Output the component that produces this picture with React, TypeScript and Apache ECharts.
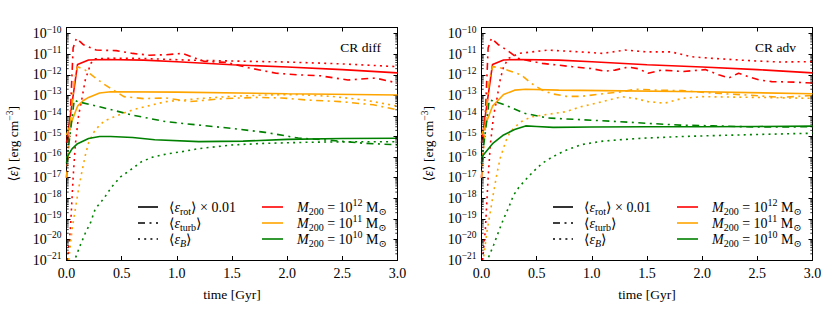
import { useEffect, useRef } from 'react';
import * as echarts from 'echarts';

// ---------------- axes / labels ----------------
const X_MIN = 0;
const X_MAX = 3;
const X_INTERVAL = 0.5;
const Y_MIN = 1e-21;
const Y_MAX = 2e-10;
const yTickExponents = [-21, -20, -19, -18, -17, -16, -15, -14, -13, -12, -11, -10];
const panelTitles = ['CR diff', 'CR adv'];
const massExponents = [12, 11, 10];
const massColors = ['#ff0000', '#ffa500', '#008000'];

// ---------------- CR diff (left panel) ----------------
const diffRot12 = [[0, 5e-16], [0.1, 3.2e-12], [0.2, 5.3e-12], [0.35, 5.6e-12], [0.7, 5.2e-12], [1.0, 4.3e-12], [1.5, 3.1e-12], [2.0, 2.4e-12], [2.5, 1.8e-12], [3.0, 1.25e-12]];
const diffTurb12 = [[0, 1e-17], [0.03, 3e-15], [0.06, 2e-11], [0.09, 6e-11], [0.15, 3e-11], [0.27, 1.6e-11], [0.45, 1.5e-11], [0.6, 1.1e-11], [0.75, 9e-12], [0.9, 9.5e-12], [1.05, 1.1e-11], [1.15, 7e-12], [1.25, 4.5e-12], [1.45, 4e-12], [1.65, 2.2e-12], [1.9, 1.2e-12], [2.1, 1e-12], [2.3, 9e-13], [2.55, 5.6e-13], [2.8, 7e-13], [3.0, 4e-13]];
const diffB12 = [[0.01, 1e-21], [0.035, 3e-20], [0.06, 1e-17], [0.08, 4e-16], [0.11, 1.1e-14], [0.14, 7e-14], [0.17, 5.6e-13], [0.22, 3.6e-12], [0.26, 6e-12], [0.4, 6.5e-12], [0.7, 6.2e-12], [1.1, 5.2e-12], [1.5, 4.7e-12], [2.0, 4.2e-12], [2.5, 3.4e-12], [3.0, 2.5e-12]];

const diffRot11 = [[0, 1.2e-15], [0.1, 3e-14], [0.15, 5.5e-14], [0.2, 8e-14], [0.3, 1.3e-13], [0.4, 1.5e-13], [1.0, 1.45e-13], [2.0, 1.2e-13], [3.0, 1.05e-13]];
const diffTurb11 = [[0, 1e-17], [0.04, 1e-14], [0.07, 5e-13], [0.1, 2.5e-12], [0.17, 1.7e-12], [0.25, 8e-13], [0.34, 3.5e-13], [0.52, 8.7e-14], [0.7, 7e-14], [0.9, 7.5e-14], [1.12, 5e-14], [1.42, 7e-14], [1.72, 8e-14], [1.95, 7.5e-14], [2.18, 6e-14], [2.48, 5e-14], [2.78, 3.5e-14], [3.0, 2e-14]];
const diffB11 = [[0.02, 1e-21], [0.05, 3e-20], [0.08, 3e-19], [0.11, 3e-18], [0.14, 2e-17], [0.17, 1.2e-16], [0.2, 5e-16], [0.25, 1.7e-15], [0.3, 3.6e-15], [0.35, 6e-15], [0.45, 1e-14], [0.6, 2e-14], [0.9, 5e-14], [1.2, 7e-14], [1.5, 9e-14], [1.8, 1.05e-13], [2.1, 1.1e-13], [2.4, 9e-14], [2.7, 6e-14], [3.0, 3e-14]];

const diffRot10 = [[0, 9e-17], [0.05, 2.5e-16], [0.1, 4.5e-16], [0.2, 8e-16], [0.3, 1e-15], [0.4, 1e-15], [0.6, 9e-16], [0.8, 7e-16], [1.2, 5.7e-16], [1.6, 6e-16], [2.0, 7.3e-16], [2.5, 8e-16], [3.0, 8.3e-16]];
const diffTurb10 = [[0, 5e-17], [0.03, 1e-15], [0.07, 6e-14], [0.1, 5e-14], [0.3, 2.8e-14], [0.6, 1.1e-14], [0.9, 5.3e-15], [1.2, 3.6e-15], [1.5, 2.5e-15], [1.8, 1.6e-15], [2.1, 8.5e-16], [2.4, 6.5e-16], [2.7, 4.7e-16], [3.0, 4e-16]];
const diffB10 = [[0.06, 7e-22], [0.08, 1.2e-21], [0.12, 4.5e-21], [0.17, 2e-20], [0.22, 7e-20], [0.26, 3e-19], [0.34, 1e-18], [0.41, 3.6e-18], [0.49, 1.1e-17], [0.58, 2.4e-17], [0.68, 6e-17], [0.78, 1e-16], [0.9, 1.4e-16], [1.06, 1.9e-16], [1.2, 2.6e-16], [1.5, 3.9e-16], [1.8, 4.7e-16], [2.2, 5.3e-16], [2.6, 5.6e-16], [3.0, 5.6e-16]];

// ---------------- CR adv (right panel) ----------------
const advRot12 = [[0, 5e-16], [0.1, 3.2e-12], [0.2, 5.3e-12], [0.35, 5.6e-12], [0.7, 5.2e-12], [1.0, 4.3e-12], [1.5, 3.1e-12], [2.0, 2.4e-12], [2.5, 1.8e-12], [3.0, 1.25e-12]];
const advTurb12 = [[0, 1e-17], [0.03, 3e-15], [0.06, 2e-11], [0.09, 6e-11], [0.15, 3e-11], [0.23, 1.6e-11], [0.33, 6.3e-12], [0.55, 3.6e-12], [0.82, 2.5e-12], [1.0, 2e-12], [1.12, 1.5e-12], [1.21, 1.7e-12], [1.33, 2.4e-12], [1.42, 2e-12], [1.51, 1.2e-12], [1.63, 1.7e-12], [1.83, 1.45e-12], [2.03, 1.8e-12], [2.15, 1e-12], [2.24, 7e-13], [2.33, 1.2e-12], [2.42, 8e-13], [2.52, 5.6e-13], [2.63, 4.7e-13], [2.84, 4.4e-13], [3.0, 4e-13]];
const advB12 = [[0.01, 1e-21], [0.035, 3e-20], [0.06, 1e-17], [0.08, 4e-16], [0.11, 1.1e-14], [0.14, 7e-14], [0.17, 6e-13], [0.2, 2.5e-12], [0.245, 6.3e-12], [0.34, 1.1e-11], [0.6, 1.6e-11], [0.9, 1.3e-11], [1.1, 1.1e-11], [1.3, 1.6e-11], [1.5, 1.3e-11], [1.72, 1.3e-11], [1.9, 7.6e-12], [2.1, 6.3e-12], [2.4, 5e-12], [2.7, 4.2e-12], [3.0, 4.4e-12]];

const advRot11 = [[0, 1.2e-15], [0.1, 3e-14], [0.2, 1.1e-13], [0.3, 1.8e-13], [0.4, 2e-13], [0.7, 1.8e-13], [1.1, 1.7e-13], [2.0, 1.5e-13], [3.0, 1.2e-13]];
const advTurb11 = [[0, 1e-17], [0.04, 1e-14], [0.07, 5e-13], [0.1, 2.5e-12], [0.17, 2.2e-12], [0.27, 1.45e-12], [0.36, 1e-12], [0.45, 3.9e-13], [0.55, 1.8e-13], [0.64, 1.2e-13], [0.77, 9e-14], [0.9, 9e-14], [1.1, 1.2e-13], [1.27, 1.5e-13], [1.4, 2e-13], [1.6, 1.8e-13], [1.82, 1.7e-13], [2.1, 1.3e-13], [2.4, 1.05e-13], [2.72, 8e-14], [3.0, 1e-13]];
const advB11 = [[0.02, 1.5e-21], [0.05, 2.5e-20], [0.08, 2.2e-19], [0.11, 2e-18], [0.14, 1.6e-17], [0.17, 9e-17], [0.22, 6e-16], [0.26, 1.7e-15], [0.35, 5e-15], [0.45, 9e-15], [0.6, 1.2e-14], [0.76, 1.6e-14], [0.9, 2.8e-14], [1.1, 5e-14], [1.27, 8.7e-14], [1.4, 7e-14], [1.51, 5e-14], [1.66, 4.2e-14], [1.82, 7.2e-14], [2.0, 8.7e-14], [2.5, 8e-14], [3.0, 7.2e-14]];

const advRot10 = [[0, 1e-16], [0.1, 4.5e-16], [0.2, 1.2e-15], [0.3, 2.2e-15], [0.4, 3.3e-15], [0.5, 3.1e-15], [0.65, 2.8e-15], [1.0, 2.9e-15], [1.5, 3e-15], [2.0, 3e-15], [2.5, 3.1e-15], [3.0, 3.2e-15]];
const advTurb10 = [[0, 5e-17], [0.03, 1e-15], [0.07, 6e-14], [0.1, 5.5e-14], [0.21, 3.5e-14], [0.39, 1.35e-14], [0.6, 8e-15], [0.9, 6.6e-15], [1.2, 5.5e-15], [1.5, 4.4e-15], [1.8, 3.6e-15], [2.1, 3.3e-15], [2.5, 2.9e-15], [3.0, 3e-15]];
const advB10 = [[0.05, 7e-22], [0.065, 1.4e-21], [0.11, 5.4e-21], [0.155, 2.4e-20], [0.2, 1e-19], [0.25, 4e-19], [0.29, 1.4e-18], [0.34, 3.5e-18], [0.4, 8e-18], [0.47, 2e-17], [0.55, 5e-17], [0.64, 1e-16], [0.75, 2e-16], [0.9, 4e-16], [1.1, 6e-16], [1.4, 8e-16], [1.8, 1e-15], [2.2, 1.15e-15], [2.6, 1.3e-15], [3.0, 1.45e-15]];

const panelData = [
  [
    { rot: diffRot12, turb: diffTurb12, B: diffB12 },
    { rot: diffRot11, turb: diffTurb11, B: diffB11 },
    { rot: diffRot10, turb: diffTurb10, B: diffB10 },
  ],
  [
    { rot: advRot12, turb: advTurb12, B: advB12 },
    { rot: advRot11, turb: advTurb11, B: advB11 },
    { rot: advRot10, turb: advTurb10, B: advB10 },
  ],
];

// ---------------- styling ----------------
const SERIF = '"Liberation Serif", "DejaVu Serif", "Times New Roman", serif';
const FS = 14;
const LFS = 14;
const LW = 1.6;
const DASHDOT = [7, 4.5, 2, 4.5];
const DOTTED = [2, 4.2];
const GRIDS = [
  { left: 66.5, top: 27.5, width: 331, height: 232.5 },
  { left: 481.5, top: 27.5, width: 331, height: 232.5 },
];

const axisRich = {
  b: { fontFamily: SERIF, fontSize: FS, color: '#000', lineHeight: 18 },
  sup: { fontFamily: SERIF, fontSize: 9.5, color: '#000', verticalAlign: 'top', lineHeight: 10 },
  ei: { fontFamily: SERIF, fontSize: FS, fontStyle: 'italic', color: '#000', lineHeight: 18 },
};

const gRich = {
  ei: { fontFamily: SERIF, fontSize: LFS, fontStyle: 'italic', fill: '#000', lineHeight: 19 },
  sub: { fontFamily: SERIF, fontSize: 10, fill: '#000', verticalAlign: 'bottom', lineHeight: 10 },
  subi: { fontFamily: SERIF, fontSize: 10, fontStyle: 'italic', fill: '#000', verticalAlign: 'bottom', lineHeight: 10 },
  sup: { fontFamily: SERIF, fontSize: 10, fill: '#000', verticalAlign: 'top', lineHeight: 10 },
};

function minorTickValues() {
  const out: number[][] = [];
  for (const e of yTickExponents) {
    for (let k = 2; k <= 9; k++) {
      const v = k * Math.pow(10, e);
      if (v < Y_MAX * 0.999) out.push([X_MIN, v]);
    }
  }
  return out;
}

function yLabel(v: number) {
  const r = Math.round(v);
  if (Math.abs(v - r) > 1e-6 || !yTickExponents.includes(r)) return '';
  return `{b|10}{sup|${r < 0 ? '\u2212' : ''}${Math.abs(r)}}`;
}

export default function App() {
  const ref = useRef<HTMLDivElement>(null);
  useEffect(() => {
    if (!ref.current) return;
    const chart = echarts.init(ref.current, null, { renderer: 'svg' });
    const yLogMin = Math.log10(Y_MIN);
    const yLogMax = Math.log10(Y_MAX);

    const xAxis: any[] = [];
    const yAxis: any[] = [];
    const series: any[] = [];
    const graphic: any[] = [];

    GRIDS.forEach((g, p) => {
      const axisLine = { show: true, onZero: false, lineStyle: { color: '#000', width: 1 } };
      const tick = { show: true, inside: true, length: 4, lineStyle: { color: '#000', width: 1 } };
      xAxis.push({
        type: 'value', gridIndex: p, position: 'bottom', min: X_MIN, max: X_MAX, interval: X_INTERVAL,
        axisLine, axisTick: tick, splitLine: { show: false },
        axisLabel: { formatter: (v: number) => v.toFixed(1), fontFamily: SERIF, fontSize: FS, color: '#000', margin: 6 },
        name: 'time [Gyr]', nameLocation: 'middle', nameGap: 27,
        nameTextStyle: { fontFamily: SERIF, fontSize: 13.5, color: '#000' },
      });
      xAxis.push({
        type: 'value', gridIndex: p, position: 'top', min: X_MIN, max: X_MAX, interval: X_INTERVAL,
        axisLine, axisTick: tick, splitLine: { show: false }, axisLabel: { show: false },
      });
      yAxis.push({
        type: 'value', gridIndex: p, position: 'left', min: yLogMin, max: yLogMax, interval: 1,
        axisLine, axisTick: tick, splitLine: { show: false },
        axisLabel: { formatter: yLabel, rich: axisRich, margin: 5, fontFamily: SERIF, fontSize: FS, color: '#000' },
        name: '\u27E8{ei|\u03B5}\u27E9 [erg cm{sup|\u22123}]', nameLocation: 'middle', nameGap: 44, nameRotate: 90,
        nameTextStyle: { fontFamily: SERIF, fontSize: 13.5, color: '#000', rich: axisRich },
      });
      yAxis.push({
        type: 'value', gridIndex: p, position: 'right', min: yLogMin, max: yLogMax, interval: 1,
        axisLine, axisTick: tick, splitLine: { show: false }, axisLabel: { show: false },
      });
      yAxis.push({
        type: 'log', logBase: 10, gridIndex: p, position: 'left', min: Y_MIN, max: Y_MAX, show: false,
        splitLine: { show: false },
      });
      const xi = p * 2;
      const yi = p * 3 + 2;

      panelData[p].forEach((m, mi) => {
        const color = massColors[mi];
        const defs: [number[][], any][] = [[m.B, DOTTED], [m.turb, DASHDOT], [m.rot, 'solid']];
        defs.forEach(([data, type]) => {
          series.push({
            type: 'line', xAxisIndex: xi, yAxisIndex: yi, data, showSymbol: false, symbol: 'none',
            lineStyle: { color, width: LW, type }, clip: true, silent: true, z: 3,
          });
        });
      });

      series.push({
        type: 'custom', xAxisIndex: xi, yAxisIndex: yi, data: minorTickValues(), silent: true, z: 5,
        renderItem: (_params: any, api: any) => {
          const v = api.value(1);
          const a = api.coord([X_MIN, v]);
          const b = api.coord([X_MAX, v]);
          return {
            type: 'group',
            children: [
              { type: 'line', shape: { x1: a[0], y1: a[1], x2: a[0] + 2.2, y2: a[1] }, style: { stroke: '#000', lineWidth: 0.8 } },
              { type: 'line', shape: { x1: b[0] - 2.2, y1: b[1], x2: b[0], y2: b[1] }, style: { stroke: '#000', lineWidth: 0.8 } },
            ],
          };
        },
      });

      // annotations & legends
      const ox = g.left;
      graphic.push({
        type: 'text', x: ox + 314.5, y: 47,
        style: { text: panelTitles[p], fontFamily: SERIF, fontSize: 13.5, fill: '#000', align: 'right', verticalAlign: 'middle', textAlign: 'right', textVerticalAlign: 'middle' },
      });
      const rowsY = [207, 223, 239];
      const styleTexts = [
        '\u27E8{ei|\u03B5}{sub|rot}\u27E9 \u00D7 0.01',
        '\u27E8{ei|\u03B5}{sub|turb}\u27E9',
        '\u27E8{ei|\u03B5}{subi|B}\u27E9',
      ];
      const dashes: any[] = [null, DASHDOT, DOTTED];
      rowsY.forEach((y, i) => {
        graphic.push({
          type: 'line', shape: { x1: ox + 71.5, y1: y, x2: ox + 91.5, y2: y },
          style: { stroke: '#000', lineWidth: LW, lineDash: dashes[i] || undefined },
        });
        graphic.push({
          type: 'text', x: ox + 102.5, y,
          style: { text: styleTexts[i], fontFamily: SERIF, fontSize: LFS, fill: '#000', lineHeight: 19, rich: gRich, align: 'left', verticalAlign: 'middle', textAlign: 'left', textVerticalAlign: 'middle' },
        });
        graphic.push({
          type: 'line', shape: { x1: ox + 195.5, y1: y, x2: ox + 216.5, y2: y },
          style: { stroke: massColors[i], lineWidth: LW },
        });
        graphic.push({
          type: 'text', x: ox + 230.5, y,
          style: { text: `{ei|M}{sub|200} = 10{sup|${massExponents[i]}} M{sub|\u2299}`, fontFamily: SERIF, fontSize: LFS, fill: '#000', lineHeight: 19, rich: gRich, align: 'left', verticalAlign: 'middle', textAlign: 'left', textVerticalAlign: 'middle' },
        });
      });
    });

    chart.setOption({
      animation: false,
      backgroundColor: '#ffffff',
      grid: GRIDS.map((g) => ({ ...g, containLabel: false, outerBoundsMode: 'none' })),
      xAxis,
      yAxis,
      series,
      graphic,
    });
    return () => chart.dispose();
  }, []);
  return <div ref={ref} style={{ position: 'absolute', left: 0, top: 0, width: 830, height: 311 }} />;
}
